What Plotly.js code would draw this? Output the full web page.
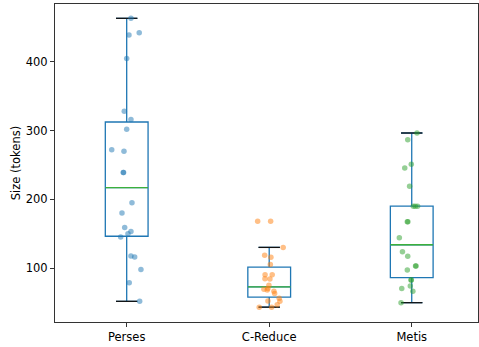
<!DOCTYPE html>
<html><head><meta charset="utf-8">
<script src="https://cdn.plot.ly/plotly-3.0.1.min.js"></script>
<style>html,body{margin:0;padding:0;background:#fff}</style>
</head><body><div id="chart" style="width:479px;height:347px"></div>
<script>
const categories = ['Perses', 'C-Reduce', 'Metis'];
const persesSizes = [463.5, 442.5, 439, 405, 328, 316, 302, 272, 270, 239, 239, 195, 180, 159, 153, 150, 145, 117.5, 116, 98, 78.6, 51.5];
const persesJitter = [0.030, 0.088, 0.016, 0, -0.017, 0.030, 0, -0.105, -0.019, -0.024, -0.022, 0.037, -0.033, -0.014, 0.030, 0.009, -0.042, 0.030, 0.056, 0.100, 0.018, 0.091];
const creduceSizes = [168, 168, 130, 118.5, 115.6, 105, 90, 90, 84.4, 84, 74.8, 70, 69, 68, 66, 63, 56, 51.5, 52, 46.6, 43, 43];
const creduceJitter = [-0.081, 0.010, 0.098, -0.032, 0.012, 0.008, -0.029, 0.021, -0.030, 0.005, -0.002, -0.009, -0.037, -0.014, 0.033, 0.038, 0.070, 0.075, -0.009, 0.056, -0.070, 0.017];
const metisSizes = [296.5, 286.8, 251, 245.6, 219, 190, 190, 190, 167.4, 167.4, 144, 123.7, 117, 103, 103, 97, 82.5, 82.5, 73.8, 70, 66, 49.5];
const metisJitter = [0.037, -0.028, -0.003, -0.049, -0.015, 0.011, 0.025, 0.041, -0.031, -0.027, -0.087, -0.065, -0.028, 0.027, 0.030, -0.031, -0.005, -0.003, -0.010, -0.070, 0.008, -0.075];
const yTicks = [100, 200, 300, 400];

const groups = [persesSizes, creduceSizes, metisSizes];
const jitters = [persesJitter, creduceJitter, metisJitter];
const pointColors = ['rgba(31,119,180,0.5)', 'rgba(255,127,14,0.5)', 'rgba(44,160,44,0.5)'];

function quantile(sorted, p) {
  const pos = (sorted.length - 1) * p;
  const lo = Math.floor(pos), hi = Math.ceil(pos);
  return sorted[lo] + (sorted[hi] - sorted[lo]) * (pos - lo);
}
function stats(arr) {
  const s = arr.slice().sort((a, b) => a - b);
  const q1 = quantile(s, 0.25), med = quantile(s, 0.5), q3 = quantile(s, 0.75);
  const iqr = q3 - q1;
  const lo = s.filter(v => v >= q1 - 1.5 * iqr)[0];
  const hiArr = s.filter(v => v <= q3 + 1.5 * iqr);
  const hi = hiArr[hiArr.length - 1];
  return {q1, med, q3, lo, hi};
}

const boxW = 0.3;
const traces = [];
const capX = [], capY = [], medX = [], medY = [];
groups.forEach((g, i) => {
  const st = stats(g);
  traces.push({
    type: 'box', x: [i], q1: [st.q1], median: [st.med], q3: [st.q3],
    lowerfence: [st.lo], upperfence: [st.hi],
    width: boxW, whiskerwidth: 0.5, boxpoints: false,
    line: {color: '#1f77b4', width: 1.3}, fillcolor: 'rgba(0,0,0,0)',
    hoverinfo: 'skip', showlegend: false
  });
  capX.push(i - boxW / 4, i + boxW / 4, null, i - boxW / 4, i + boxW / 4, null);
  capY.push(st.hi, st.hi, null, st.lo, st.lo, null);
  medX.push(i - boxW / 2, i + boxW / 2, null);
  medY.push(st.med, st.med, null);
});
traces.push({type: 'scatter', mode: 'lines', x: capX, y: capY, line: {color: '#111', width: 1.3}, hoverinfo: 'skip', showlegend: false});
traces.push({type: 'scatter', mode: 'lines', x: medX, y: medY, line: {color: '#3cb03c', width: 1.3}, hoverinfo: 'skip', showlegend: false});
groups.forEach((g, i) => {
  traces.push({
    type: 'scatter', mode: 'markers',
    x: g.map((v, k) => i + jitters[i][k]), y: g,
    marker: {color: pointColors[i], size: 5.5, line: {width: 0}},
    showlegend: false
  });
});

const font = {family: 'DejaVu Sans', size: 11.5, color: '#000'};
const layout = {
  width: 479, height: 347,
  margin: {l: 55, r: 1, t: 4, b: 25},
  paper_bgcolor: '#fff', plot_bgcolor: '#fff',
  font: font,
  showlegend: false,
  xaxis: {
    range: [-0.503, 2.465], tickvals: [0, 1, 2], ticktext: categories,
    showgrid: false, zeroline: false, showline: true, mirror: true,
    linecolor: '#333', linewidth: 1, ticks: 'outside', ticklen: 4, tickcolor: '#333',
    tickfont: font
  },
  yaxis: {
    range: [21.4, 484.3], tickvals: yTicks,
    showgrid: false, zeroline: false, showline: true, mirror: true,
    linecolor: '#333', linewidth: 1, ticks: 'outside', ticklen: 4, tickcolor: '#333',
    tickfont: font,
    title: {text: 'Size (tokens)', font: font, standoff: 2}
  }
};
Plotly.newPlot('chart', traces, layout, {displayModeBar: false, staticPlot: true});
</script></body></html>
